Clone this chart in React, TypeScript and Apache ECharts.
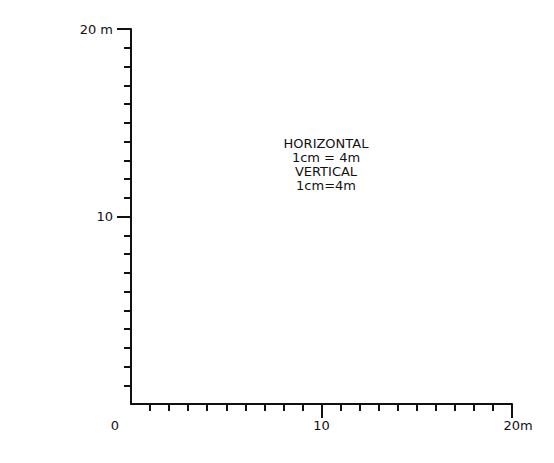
import React, { useEffect, useRef } from "react";
import * as echarts from "echarts";

const xRange = [0, 20];
const yRange = [0, 20];
const majorStep = 10;
const minorPerMajor = 10;
const majorTickValues = [10, 20];
const xTickLabels: Record<number, string> = { 10: "10", 20: "{r|20m}" };
const yTickLabels: Record<number, string> = { 10: "10", 20: "20 m" };
const originLabel = "0";
const scaleNote = ["HORIZONTAL", "1cm = 4m", "VERTICAL", "1cm=4m"];

const FONT = "DejaVu Sans";
const INK = "#111";

export default function App() {
  const ref = useRef<HTMLDivElement>(null);
  useEffect(() => {
    if (!ref.current) return;
    const chart = echarts.init(ref.current, undefined, { renderer: "svg" });
    const axisCommon = {
      type: "value" as const,
      interval: majorStep,
      axisLine: { show: true, lineStyle: { color: INK, width: 2 } },
      axisTick: {
        show: true,
        length: 14,
        customValues: majorTickValues,
        lineStyle: { color: INK, width: 2 },
      },
      minorTick: { show: true, splitNumber: minorPerMajor, length: 7, lineStyle: { color: INK, width: 2 } },
      splitLine: { show: false },
      minorSplitLine: { show: false },
    };
    chart.setOption({
      animation: false,
      backgroundColor: "#fff",
      grid: { left: 131, right: 42, top: 29, bottom: 59, containLabel: false },
      xAxis: {
        ...axisCommon,
        min: xRange[0],
        max: xRange[1],
        axisLabel: {
          show: true,
          margin: 15,
          color: INK,
          fontFamily: FONT,
          fontSize: 13,
          formatter: (v: number) => xTickLabels[v] ?? "",
          rich: { r: { padding: [0, 0, 0, 12], fontFamily: FONT, fontSize: 13, color: INK } },
        },
      },
      yAxis: {
        ...axisCommon,
        min: yRange[0],
        max: yRange[1],
        axisLabel: {
          show: true,
          margin: 18,
          color: INK,
          fontFamily: FONT,
          fontSize: 13,
          formatter: (v: number) => yTickLabels[v] ?? "",
        },
      },
      series: [{ type: "line", data: [], silent: true }],
      graphic: [
        {
          type: "text",
          x: 115,
          y: 425,
          style: {
            text: originLabel,
            fill: INK,
            font: `13px '${FONT}'`,
            align: "center",
            verticalAlign: "middle",
          },
        },
        {
          type: "text",
          x: 326,
          y: 136,
          style: {
            text: scaleNote.join("\n"),
            fill: INK,
            font: `13px '${FONT}'`,
            align: "center",
            verticalAlign: "top",
            lineHeight: 14,
          },
        },
      ],
    });
    return () => chart.dispose();
  }, []);
  return (
    <div
      ref={ref}
      style={{ position: "fixed", left: 0, top: 0, width: 554, height: 463, background: "#fff" }}
    />
  );
}
